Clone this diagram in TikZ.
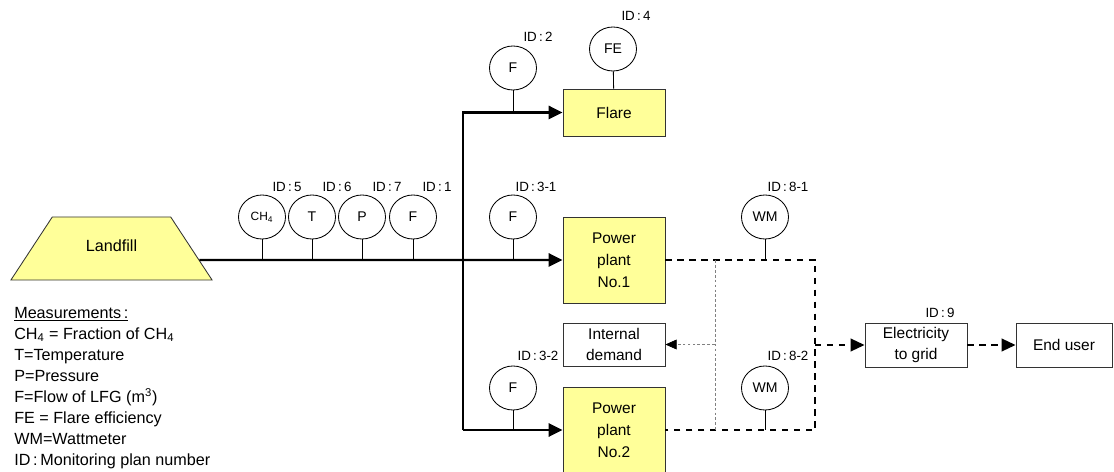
\documentclass[tikz,border=0pt]{standalone}
\usepackage{fontspec}
\setmainfont{Liberation Sans}
\usetikzlibrary{shapes.geometric,arrows.meta,calc}
\definecolor{plantfill}{RGB}{255,255,153}

\begin{document}
\begin{tikzpicture}[x=0.025cm, y=-0.025cm,
    box/.style={rectangle, draw=black!80, line width=0.6pt, minimum width=2.55cm, align=center, inner sep=1pt, font=\fontsize{11}{15.5}\selectfont},
    plant/.style={box, fill=plantfill},
    sensor/.style={ellipse, draw, line width=0.6pt, minimum width=1.175cm, minimum height=1.1cm, inner sep=0pt, font=\fontsize{10}{12}\selectfont},
    idlab/.style={inner sep=0pt, font=\fontsize{9.5}{11}\selectfont},
    stem/.style={line width=0.6pt},
    flow/.style={line width=1.6pt, -{Triangle[length=10pt, width=9.5pt]}},
    elec/.style={line width=1.6pt, dash pattern=on 4.5pt off 4pt},
    aux/.style={gray, line width=0.5pt, dash pattern=on 2pt off 1.5pt}
]
\useasboundingbox (0,0) rectangle (1114,472);

% Source
\node[trapezium, trapezium left angle=51.6, trapezium right angle=51.6, trapezium stretches=true,
      minimum width=5.05cm, minimum height=1.575cm, draw=black!80, line width=0.6pt, fill=plantfill,
      font=\fontsize{11.5}{14}\selectfont] (landfill) at (111.5,248.5) {\raisebox{4pt}{Landfill}};
\coordinate (lfout) at ($(landfill.bottom right corner)!0.32!(landfill.top right corner)$);

% Destinations
\node[plant, minimum height=1.175cm] (flare) at (614,112.5) {Flare};
\node[plant, minimum height=2.15cm] (pp1) at (614,260) {Power\\plant\\No.1};
\node[plant, minimum height=2.15cm] (pp2) at (614,430) {Power\\plant\\No.2};
\node[box, minimum height=1.075cm] (demand) at (614,344.5) {Internal\\demand};
\node[box, minimum height=1.1cm] (grid) at (916,345) {Electricity\\to grid};
\node[box, minimum width=2.4cm, minimum height=1.1cm] (enduser) at (1064,345) {End user};

% Meters
\node[sensor, font=\fontsize{8.5}{10}\selectfont] (ch4) at (262,217) {CH\textsubscript{4}};
\node[sensor] (temp) at (312,217) {T};
\node[sensor] (pres) at (362,217) {P};
\node[sensor] (fmain) at (413,217) {F};
\node[sensor] (fflare) at (513,68) {F};
\node[sensor] (fe) at (613,49) {FE};
\node[sensor] (fpp1) at (513,217) {F};
\node[sensor] (fpp2) at (513,388) {F};
\node[sensor] (wm1) at (765,217) {WM};
\node[sensor] (wm2) at (765,388) {WM};

% Monitoring plan numbers
\node[idlab] (id5) at (287,187) {ID\,:\,5};
\node[idlab] (id6) at (337,187) {ID\,:\,6};
\node[idlab] (id7) at (387,187) {ID\,:\,7};
\node[idlab] (id1) at (437,187) {ID\,:\,1};
\node[idlab] (id2) at (538,37) {ID\,:\,2};
\node[idlab] (id4) at (636,16) {ID\,:\,4};
\node[idlab] (id31) at (536,187) {ID\,:\,3-1};
\node[idlab] (id32) at (538,356) {ID\,:\,3-2};
\node[idlab] (id81) at (788,187) {ID\,:\,8-1};
\node[idlab] (id82) at (788,356) {ID\,:\,8-2};
\node[idlab] (id9) at (940,313) {ID\,:\,9};

% Gas lines
\coordinate (jb) at (463,430);
\draw[flow] (lfout) -- (pp1);
\draw[flow] (jb) |- (flare);
\draw[flow] (jb) -- (pp2);

% Meter stems
\draw[stem] (ch4) -- (ch4 |- lfout);
\draw[stem] (temp) -- (temp |- lfout);
\draw[stem] (pres) -- (pres |- lfout);
\draw[stem] (fmain) -- (fmain |- lfout);
\draw[stem] (fflare) -- (fflare |- flare);
\draw[stem] (fe) -- (flare);
\draw[stem] (fpp1) -- (fpp1 |- pp1);
\draw[stem] (fpp2) -- (fpp2 |- pp2);
\draw[stem] (wm1) -- (wm1 |- pp1);
\draw[stem] (wm2) -- (wm2 |- pp2);

% Electricity
\coordinate (eb) at (815,430);
\coordinate (eout) at (815,345);
\draw[elec] (pp1) -| (eb) -- (pp2);
\draw[elec, -{Triangle[length=10pt, width=9pt]}] (eout) -- (grid);
\draw[elec, -{Triangle[length=10pt, width=9pt]}] (grid) -- (enduser);

% Own use
\coordinate (gt) at (715,260);
\coordinate (gb) at (715,430);
\draw[aux] (gt) -- (gb);
\draw[aux, -{Triangle[length=8pt, width=7pt, black]}] (gt |- demand) -- (demand);

% Legend
\node[anchor=north west, align=left, inner sep=0pt, font=\fontsize{11.5}{14.9}\selectfont] (legend) at (14,307) {%
    \underline{Measurements\,:}\\
    CH\textsubscript{4} = Fraction of CH\textsubscript{4}\\
    T=Temperature\\
    P=Pressure\\
    F=Flow of LFG (m\textsuperscript{3})\\
    FE = Flare efficiency\\
    WM=Wattmeter\\
    ID\,:\,Monitoring plan number};

\end{tikzpicture}
\end{document}
